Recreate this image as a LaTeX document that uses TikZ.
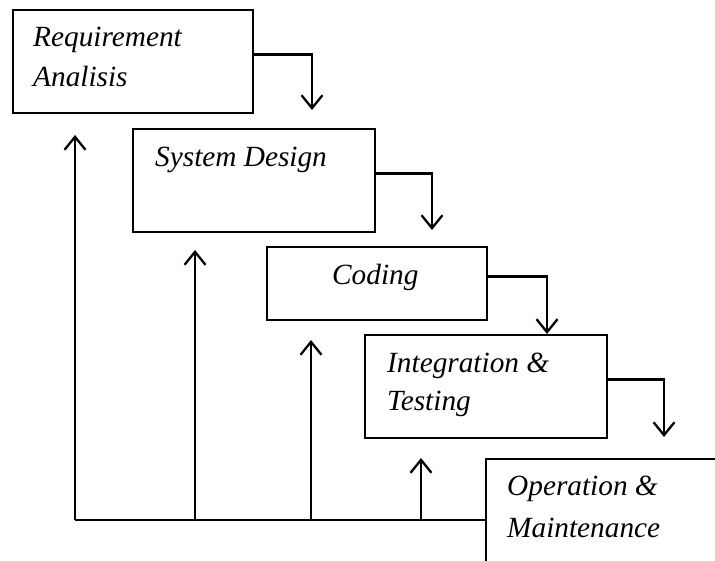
\documentclass[tikz,border=0pt]{standalone}
\usepackage{fontspec}
\setmainfont{Liberation Serif}
\usetikzlibrary{arrows.meta}
\begin{document}
\begin{tikzpicture}[x=1pt,y=-1pt,
  phase/.style={draw, line width=2.5pt, inner sep=0pt, outer sep=0pt, anchor=north west},
  caption/.style={anchor=base west, inner sep=0pt, font=\fontsize{29.3}{40}\selectfont\itshape},
  flow/.style={line width=2.3pt, -{Straight Barb[length=13pt,width=21pt,line width=2.3pt]}},
  wire/.style={line width=2.3pt}]
\useasboundingbox (0,0) rectangle (715,561);
\begin{scope}
\clip (0,0) rectangle (715,561);

% phase boxes of the waterfall
\node[phase, minimum width=240pt, minimum height=103pt] (box1) at (13,10) {};
\node[phase, minimum width=242pt, minimum height=103pt] (box2) at (133,129) {};
\node[phase, minimum width=220pt, minimum height=73pt]  (box3) at (267,247) {};
\node[phase, minimum width=242pt, minimum height=103pt] (box4) at (365,335) {};
\node[phase, minimum width=260pt, minimum height=130pt] (box5) at (486,459) {};

% box captions
\node[caption] (t1a) at (33,47)  {Requirement};
\node[caption] (t1b) at (33,87)  {Analisis};
\node[caption] (t2)  at (155,167) {System Design};
\node[caption] (t3)  at (332,285) {Coding};
\node[caption] (t4a) at (387,373) {Integration \&};
\node[caption] (t4b) at (387,410) {Testing};
\node[caption] (t5a) at (507,495) {Operation \&};
\node[caption] (t5b) at (507,537) {Maintenance};

% arrow tips of the downward steps
\coordinate (d1) at (312,110);
\coordinate (d2) at (432,230);
\coordinate (d3) at (547,334);
\coordinate (d4) at (664,437);

\draw[flow] ([yshift=7pt]box1.east) -| (d1);
\draw[flow] ([yshift=7pt]box2.east) -| (d2);
\draw[flow] ([yshift=7pt]box3.east) -| (d3);
\draw[flow] ([yshift=7pt]box4.east) -| (d4);

% feedback bus along the bottom
\coordinate (bus) at (75,520);
\coordinate (u1) at (75,135);
\coordinate (u2) at (195,250);
\coordinate (u3) at (311,340);
\coordinate (u4) at (421,458);

\draw[wire] (bus) -- (box5.west |- bus);
\draw[flow] (bus) -- (u1);
\draw[flow] (u2 |- bus) -- (u2);
\draw[flow] (u3 |- bus) -- (u3);
\draw[flow] (u4 |- bus) -- (u4);
\end{scope}
\end{tikzpicture}
\end{document}
